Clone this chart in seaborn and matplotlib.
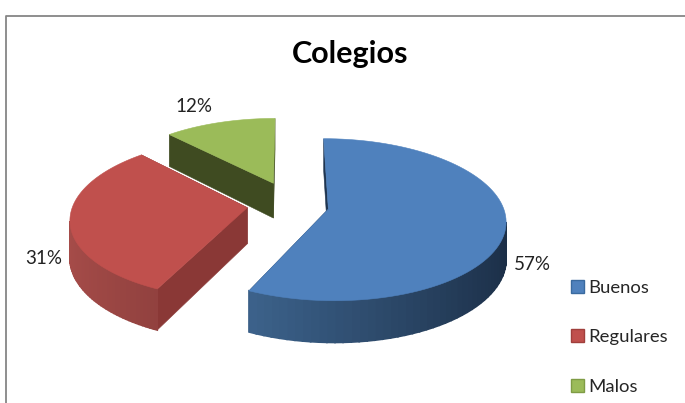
import numpy as np
import matplotlib.pyplot as plt
import seaborn as sns
from matplotlib.colors import to_rgb
from matplotlib.patches import Polygon, Patch

categories = ['Buenos', 'Regulares', 'Malos']
values = [57, 31, 12]
top_colors = ['#4f81bd', '#c0504d', '#9bbb59']
side_light = ['#4a78a8', '#a64c49', '#5a6e30']
side_dark = ['#1b2e46', '#5f2726', '#3c4a20']
cut_colors = ['#1f3550', '#8a3836', '#3f4b21']
legend_edges = ['#3a6a9f', '#a03f3c', '#7f9c45']
label_pos = [(532, 264), (44, 258), (194, 107)]

sns.set_style('white')
plt.rcParams['font.family'] = ['Lato', 'DejaVu Sans']

# proyeccion del pastel, en pixeles de la imagen
CX, CY = 288, 204
R = 174
TILT = 0.45
PERSP = 0.13
EXPLODE = 41
DEPTH = 36


def project(x, y, z=0.0):
    f = 1 / (1 + PERSP * y / R)
    return CX + x * f, CY - y * TILT * f + z * f


def area(pts):
    p = np.array(pts)
    return 0.5 * np.sum(p[:, 0] * np.roll(p[:, 1], -1) - np.roll(p[:, 0], -1) * p[:, 1])


fig, ax = plt.subplots(figsize=(6.85, 4.03), dpi=100)
fig.subplots_adjust(0, 0, 1, 1)
ax.set_xlim(0, 685)
ax.set_ylim(403, 0)
ax.axis('off')

edges = np.cumsum([0] + values) / sum(values) * 2 * np.pi

# de atras hacia adelante
for i in range(len(values))[::-1]:
    t0, t1 = edges[i], edges[i + 1]
    mid = (t0 + t1) / 2
    ox, oy = EXPLODE * np.sin(mid), EXPLODE * 1.25 * np.cos(mid)
    ts = np.linspace(t0, t1, 90)
    xs = ox + R * np.sin(ts)
    ys = oy + R * np.cos(ts)

    # caras del corte
    for tx, ty in [(xs[0], ys[0]), (xs[-1], ys[-1])]:
        quad = [project(ox, oy), project(tx, ty), project(tx, ty, DEPTH), project(ox, oy, DEPTH)]
        ax.add_patch(Polygon(quad, closed=True, fc=cut_colors[i], ec=cut_colors[i], lw=0.4))

    # borde exterior con degradado
    for k in range(len(ts) - 1):
        quad = [project(xs[k], ys[k]), project(xs[k + 1], ys[k + 1]),
                project(xs[k + 1], ys[k + 1], DEPTH), project(xs[k], ys[k], DEPTH)]
        if area(quad) >= 0:
            continue
        w = np.clip((np.sin(ts[k]) + 1) / 2, 0, 1)
        c = np.array(to_rgb(side_light[i])) * (1 - w) + np.array(to_rgb(side_dark[i])) * w
        ax.add_patch(Polygon(quad, closed=True, fc=c, ec=c, lw=1.2))

    top = [project(ox, oy)] + [project(a, b) for a, b in zip(xs, ys)]
    ax.add_patch(Polygon(top, closed=True, fc=top_colors[i], ec=top_colors[i], lw=0.4))

for v, (lx, ly) in zip(values, label_pos):
    ax.text(lx, ly, f'{v}%', ha='center', va='center', fontsize=13.5, color='#222222')

ax.text(350, 54, 'Colegios', ha='center', va='center', fontsize=22, fontweight='bold', color='black')

# marco del grafico
ax.plot([6.5, 6.5, 685], [403, 15.5, 15.5], color='#868686', lw=1.3)

handles = [Patch(fc=c, ec=e, lw=1, label=n) for c, e, n in zip(top_colors, legend_edges, categories)]
ax.legend(handles=handles, loc='upper left', bbox_to_anchor=(571 / 685, 1 - 280 / 403), frameon=False,
          fontsize=13.3, labelspacing=1.8, handlelength=0.72, handleheight=0.72, handletextpad=0.2,
          borderpad=0, borderaxespad=0)

plt.savefig('out.png', dpi=100)
